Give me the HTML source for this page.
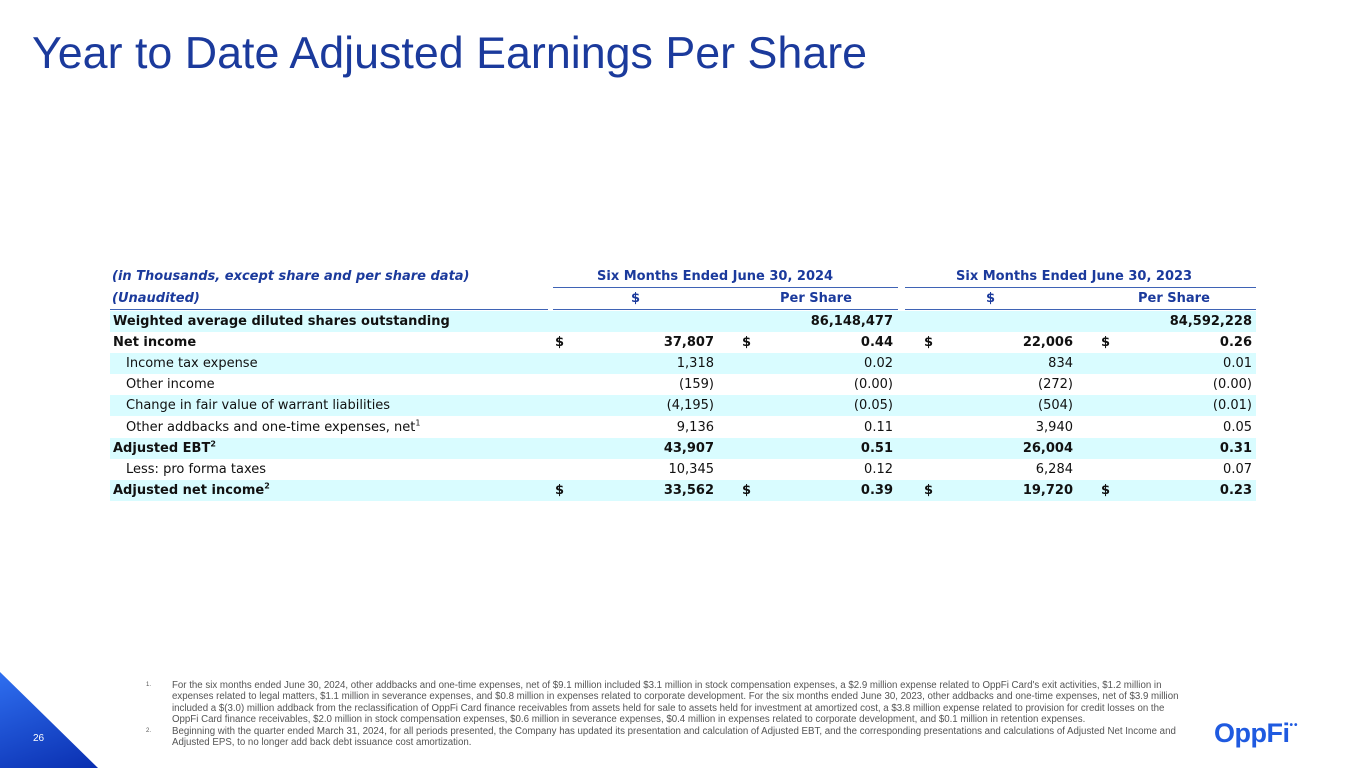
<!DOCTYPE html>
<html><head><meta charset="utf-8">
<style>
body{margin:0;width:1365px;height:768px;position:relative;background:#fff;overflow:hidden;font-family:"DejaVu Sans","Liberation Sans",sans-serif;}
.abs{position:absolute;}
#title{position:absolute;left:32px;top:27px;font-family:"Liberation Sans",sans-serif;font-size:44.8px;line-height:52px;color:#1b3a9c;white-space:nowrap;}
.row{position:absolute;left:110px;width:1146px;height:21px;font-size:13px;line-height:21px;color:#111;}
.cy{background:#d9fcff;}
.row span{position:absolute;white-space:nowrap;}
.b{font-weight:bold;}
.hd{color:#1b3a9c;font-weight:bold;font-size:13px;position:absolute;white-space:nowrap;line-height:20px;}
.ln{position:absolute;height:1px;background:#3f63b5;}
sup{font-size:8px;line-height:0;}
#notes{left:146px;top:680px;width:1045px;font-family:"Liberation Sans",sans-serif;font-size:9.7px;line-height:11.4px;color:#555;}
#notes div{position:relative;padding-left:26px;}
#notes div b{position:absolute;left:0;font-weight:normal;font-size:6px;}
</style></head><body>
<div id="title">Year to Date Adjusted Earnings Per Share</div>

<div class="hd" style="left:112px;top:267px;font-style:italic">(in Thousands, except share and per share data)</div>
<div class="hd" style="left:597px;top:267px">Six Months Ended June 30, 2024</div>
<div class="hd" style="left:956px;top:267px">Six Months Ended June 30, 2023</div>
<div class="ln" style="left:553px;top:287px;width:345px"></div>
<div class="ln" style="left:905px;top:287px;width:351px"></div>
<div class="hd" style="left:112px;top:289px;font-style:italic">(Unaudited)</div>
<div class="hd" style="left:631px;top:289px">$</div>
<div class="hd" style="left:780px;top:289px">Per Share</div>
<div class="hd" style="left:986px;top:289px">$</div>
<div class="hd" style="left:1138px;top:289px">Per Share</div>
<div class="ln" style="left:110px;top:309px;width:438px"></div>
<div class="ln" style="left:553px;top:309px;width:345px"></div>
<div class="ln" style="left:905px;top:309px;width:351px"></div>

<div id="tbl"></div>

<div class="abs" style="left:0;top:672px;width:98px;height:96px;background:linear-gradient(160deg,#2f6ff0,#0a2fb0);clip-path:polygon(0 0,100% 100%,0 100%);"></div>
<div class="abs" style="left:33px;top:733px;color:#fff;font-family:'Liberation Sans',sans-serif;font-size:10px;">26</div>

<div id="notes" class="abs">
<div><b>1.</b>For the six months ended June 30, 2024, other addbacks and one-time expenses, net of $9.1 million included $3.1 million in stock compensation expenses, a $2.9 million expense related to OppFi Card's exit activities, $1.2 million in expenses related to legal matters, $1.1 million in severance expenses, and $0.8 million in expenses related to corporate development. For the six months ended June 30, 2023, other addbacks and one-time expenses, net of $3.9 million included a $(3.0) million addback from the reclassification of OppFi Card finance receivables from assets held for sale to assets held for investment at amortized cost, a $3.8 million expense related to provision for credit losses on the OppFi Card finance receivables, $2.0 million in stock compensation expenses, $0.6 million in severance expenses, $0.4 million in expenses related to corporate development, and $0.1 million in retention expenses.</div>
<div><b>2.</b>Beginning with the quarter ended March 31, 2024, for all periods presented, the Company has updated its presentation and calculation of Adjusted EBT, and the corresponding presentations and calculations of Adjusted Net Income and Adjusted EPS, to no longer add back debt issuance cost amortization.</div>
</div>

<div class="abs" style="left:1214px;top:718px;font-family:'Liberation Sans',sans-serif;font-weight:bold;font-size:27px;color:#1f5ae0;letter-spacing:-0.5px">OppFi<span style="font-size:10px;position:relative;top:-14px;letter-spacing:1px">••</span></div>

<script>
const labels=["Weighted average diluted shares outstanding","Net income","Income tax expense","Other income","Change in fair value of warrant liabilities","Other addbacks and one-time expenses, net<sup>1</sup>","Adjusted EBT<sup>2</sup>","Less: pro forma taxes","Adjusted net income<sup>2</sup>"];
const v2024=["","37,807","1,318","(159)","(4,195)","9,136","43,907","10,345","33,562"];
const ps2024=["86,148,477","0.44","0.02","(0.00)","(0.05)","0.11","0.51","0.12","0.39"];
const v2023=["","22,006","834","(272)","(504)","3,940","26,004","6,284","19,720"];
const ps2023=["84,592,228","0.26","0.01","(0.00)","(0.01)","0.05","0.31","0.07","0.23"];
const bold=[1,1,0,0,0,0,1,0,1];
const dollar=[0,1,0,0,0,0,0,0,1];
const tbl=document.getElementById('tbl');
labels.forEach((l,i)=>{
  const r=document.createElement('div');
  r.className='row'+(i%2===0?' cy':'')+(bold[i]?' b':'');
  r.style.top=(311+i*21.1)+'px';
  
  
  let h='<span style="left:'+(bold[i]?3:16)+'px">'+l+'</span>';
  const rt=(x,t)=>'<span style="right:'+(1256-x)+'px">'+t+'</span>';
  const lf=(x,t)=>'<span style="left:'+(x-110)+'px">'+t+'</span>';
  if(dollar[i]){h+=lf(555,'$')+lf(742,'$')+lf(924,'$')+lf(1101,'$');}
  h+=rt(714,v2024[i])+rt(893,ps2024[i])+rt(1073,v2023[i])+rt(1252,ps2023[i]);
  r.innerHTML=h;
  tbl.appendChild(r);
});
</script>
</body></html>
